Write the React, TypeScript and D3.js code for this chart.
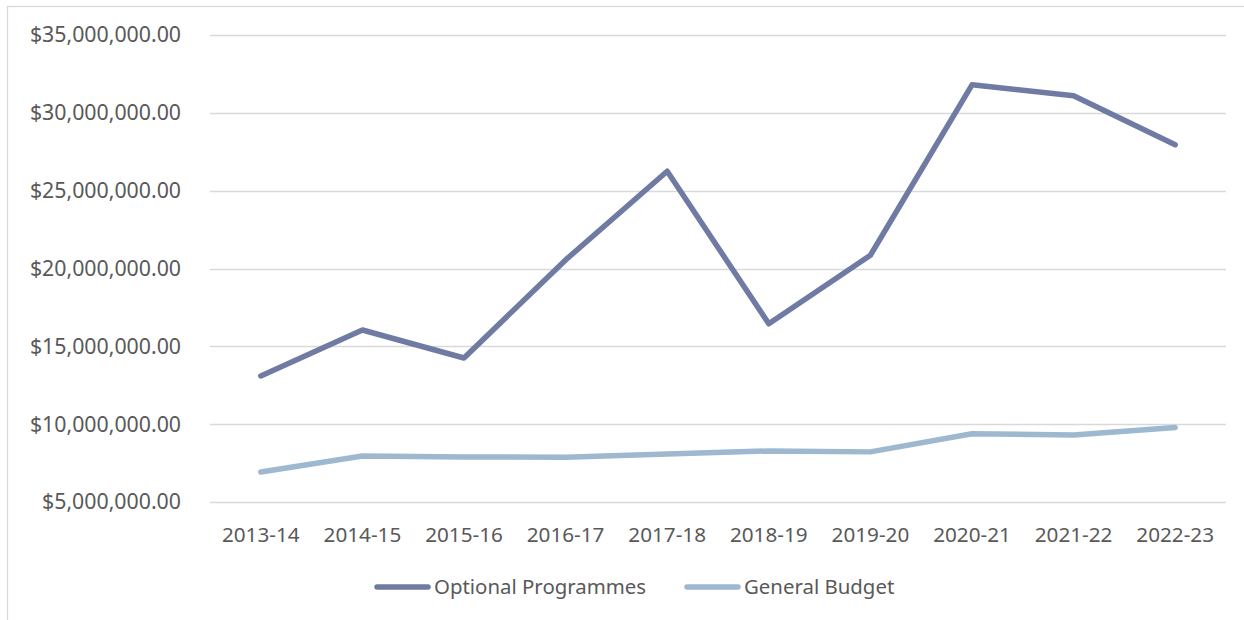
import React, { useEffect, useRef } from 'react'
import * as d3 from 'd3'

const years = [
  '2013-14', '2014-15', '2015-16', '2016-17', '2017-18',
  '2018-19', '2019-20', '2020-21', '2021-22', '2022-23',
]
const optionalProgrammes = [13.1, 16.05, 14.25, 20.55, 26.25, 16.45, 20.85, 31.8, 31.1, 27.95].map((v) => v * 1e6)
const generalBudget = [6.93, 7.95, 7.89, 7.88, 8.08, 8.28, 8.22, 9.38, 9.31, 9.78].map((v) => v * 1e6)
const yTicks = [5e6, 10e6, 15e6, 20e6, 25e6, 30e6, 35e6]

const seriesList = [
  { name: 'Optional Programmes', values: optionalProgrammes, color: '#6f7ba3' },
  { name: 'General Budget', values: generalBudget, color: '#9db8cf' },
]

const W = 1244
const H = 620
const FONT = '"Noto Sans", sans-serif'

export default function App() {
  const ref = useRef<SVGSVGElement>(null)

  useEffect(() => {
    const svg = d3.select(ref.current)
    svg.selectAll('*').remove()

    // outer frame (only top and left visible)
    svg
      .append('rect')
      .attr('x', 7.5)
      .attr('y', 6.5)
      .attr('width', W)
      .attr('height', H)
      .attr('fill', 'none')
      .attr('stroke', '#d9d9d9')
      .attr('stroke-width', 1.3)

    const xScale = d3.scaleBand<string>().domain(years).range([210, 1226])
    const xMid = (d: string) => (xScale(d) as number) + xScale.bandwidth() / 2
    const yScale = d3.scaleLinear().domain([5e6, 35e6]).range([502, 35])
    const fmt = d3.format(',.2f')

    /* gridlines */
    svg
      .append('g')
      .selectAll('line')
      .data(yTicks)
      .enter()
      .append('line')
      .attr('x1', 210)
      .attr('x2', 1226)
      .attr('y1', (d) => Math.round(yScale(d)) + 0.5)
      .attr('y2', (d) => Math.round(yScale(d)) + 0.5)
      .attr('stroke', '#d9d9d9')
      .attr('stroke-width', 1.3)

    // y labels
    svg
      .append('g')
      .selectAll('text')
      .data(yTicks)
      .enter()
      .append('text')
      .attr('x', 181)
      .attr('y', (d) => yScale(d))
      .attr('dy', '0.35em')
      .attr('text-anchor', 'end')
      .attr('fill', '#595959')
      .style('font-family', FONT)
      .style('font-size', '21.3px')
      .text((d) => '$' + fmt(d))

    // x labels
    svg
      .append('g')
      .selectAll('text')
      .data(years)
      .enter()
      .append('text')
      .attr('x', xMid)
      .attr('y', 535)
      .attr('dy', '0.35em')
      .attr('text-anchor', 'middle')
      .attr('fill', '#595959')
      .style('font-family', FONT)
      .style('font-size', '20.7px')
      .text((d) => d)

    /* lines */
    const line = d3
      .line<number>()
      .x((_, i) => xMid(years[i]))
      .y((d) => yScale(d))

    svg
      .append('g')
      .selectAll('path')
      .data(seriesList)
      .enter()
      .append('path')
      .attr('d', (d) => line(d.values))
      .attr('fill', 'none')
      .attr('stroke', (d) => d.color)
      .attr('stroke-width', 5.5)
      .attr('stroke-linecap', 'round')
      .attr('stroke-linejoin', 'round')

    // legend
    const legendX = [377, 687]
    const lg = svg
      .append('g')
      .selectAll('g')
      .data(seriesList)
      .enter()
      .append('g')
      .attr('transform', (_, i) => `translate(${legendX[i]}, 587)`)
    lg.append('line')
      .attr('x1', 0)
      .attr('x2', 51)
      .attr('stroke', (d) => d.color)
      .attr('stroke-width', 5.5)
      .attr('stroke-linecap', 'round')
    lg.append('text')
      .attr('x', 57)
      .attr('dy', '0.35em')
      .attr('fill', '#595959')
      .style('font-family', FONT)
      .style('font-size', '20.4px')
      .text((d) => d.name)
  }, [])

  return (
    <svg
      ref={ref}
      width={W}
      height={H}
      style={{ position: 'absolute', left: 0, top: 0, background: '#fff' }}
    />
  )
}
